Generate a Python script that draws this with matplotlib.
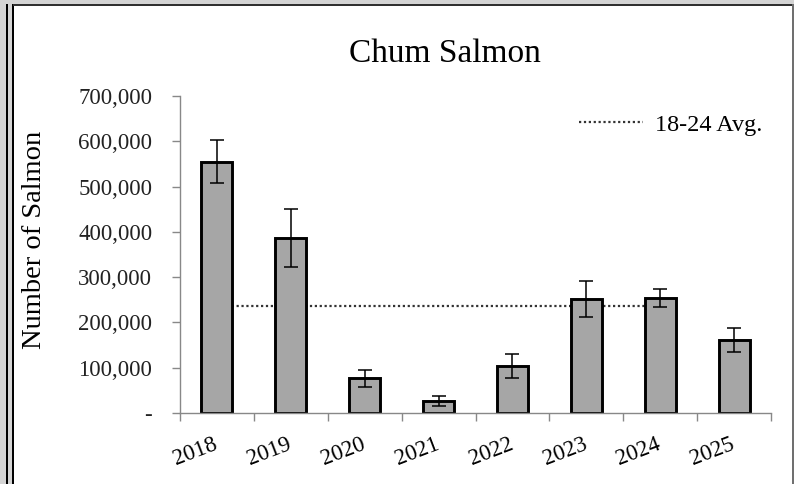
import numpy as np
import matplotlib
matplotlib.use("Agg")
import matplotlib.pyplot as plt
import matplotlib.transforms as mtransforms
from matplotlib.patches import Rectangle
from matplotlib.ticker import FuncFormatter

# chart data
years = ["2018", "2019", "2020", "2021", "2022", "2023", "2024", "2025"]
counts = [555000, 386000, 77000, 27000, 104000, 251000, 254000, 161000]
errors = [47000, 64000, 19000, 11000, 27000, 40000, 20000, 27000]
avg_years = years[:7]

plt.rcParams["font.family"] = ["Liberation Serif", "DejaVu Serif"]


def fmt_count(v, pos):
    if v == 0:
        return "-"
    return f"{int(v):,}"


def main():
    fig = plt.figure(figsize=(7.94, 4.84), dpi=100)
    fig.patch.set_facecolor("#d4d4d4")

    # window-like frame around the chart
    W, H = 794, 484
    fig.patches.append(Rectangle((13 / W, 0), (792 - 13) / W, 1 - 5 / H,
                                 transform=fig.transFigure, facecolor="white",
                                 edgecolor="none", zorder=-2))
    for x0, w, c in [(6 / W, 2 / W, "black"), (12 / W, 2 / W, "black"),
                     (792 / W, 2 / W, "#707070")]:
        fig.patches.append(Rectangle((x0, 0), w, 1 - 4 / H, transform=fig.transFigure,
                                     facecolor=c, edgecolor="none", zorder=-1))
    fig.patches.append(Rectangle((13 / W, 1 - 6 / H), (792 - 13) / W, 2 / H,
                                 transform=fig.transFigure, facecolor="#303030",
                                 edgecolor="none", zorder=-1))

    ax = fig.add_axes([180 / W, 1 - 413 / H, (771 - 180) / W, (413 - 96) / H])
    ax.set_facecolor("none")

    x = np.arange(len(years))
    avg = np.mean(counts[:7])
    ax.plot(x[:len(avg_years)], [avg] * len(avg_years), linestyle=(0, (1, 1.2)),
            color="#333333", linewidth=1.6, zorder=1, label="18-24 Avg.")

    ax.bar(x, counts, width=0.42, color="#a6a6a6", edgecolor="black",
           linewidth=2.1, zorder=2)
    ax.errorbar(x, counts, yerr=errors, fmt="none", ecolor="black",
                elinewidth=1.1, capsize=5, capthick=1.1, zorder=3)

    ax.set_xlim(-0.5, len(years) - 0.5)
    ax.set_ylim(0, 700000)
    ax.set_yticks(np.arange(0, 700001, 100000))
    ax.yaxis.set_major_formatter(FuncFormatter(fmt_count))

    ax.set_xticks(x)
    ax.set_xticklabels(years, rotation=21, ha="right", va="top",
                       rotation_mode="anchor")
    ax.set_xticks(np.arange(-0.5, len(years)), minor=True)
    ax.tick_params(axis="x", which="major", length=0, pad=15, labelsize=16.5)
    ax.tick_params(axis="x", which="minor", length=6, color="#888888", width=1)
    ax.tick_params(axis="y", length=6, color="#888888", width=1, pad=14,
                   labelsize=16.5, labelcolor="#222222")
    shift = mtransforms.ScaledTranslation(-4 / 100, 0, fig.dpi_scale_trans)
    for lab in ax.get_xticklabels():
        lab.set_transform(lab.get_transform() + shift)

    for s in ["top", "right"]:
        ax.spines[s].set_visible(False)
    for s in ["left", "bottom"]:
        ax.spines[s].set_color("#888888")
        ax.spines[s].set_linewidth(1)

    ax.set_ylabel("Number of Salmon", fontsize=20.5)
    ax.yaxis.set_label_coords(-0.2245, 0.546)
    fig.text(445 / W, 1 - 54 / H, "Chum Salmon", fontsize=24, ha="center",
             va="center")

    ax.legend(loc="upper right", frameon=False, fontsize=17.5, handlelength=2.6,
              handletextpad=0.5, bbox_to_anchor=(1.022, 1.013))

    fig.savefig("out.png", dpi=100, facecolor=fig.get_facecolor())


if __name__ == "__main__":
    main()
